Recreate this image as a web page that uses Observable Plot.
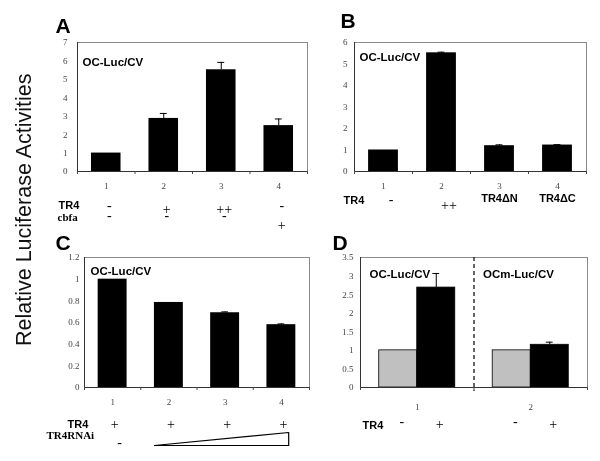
<!DOCTYPE html>
<html>
<head>
<meta charset="utf-8">
<script src="https://cdn.jsdelivr.net/npm/d3@7"></script>
<script src="https://cdn.jsdelivr.net/npm/@observablehq/plot@0.6"></script>
<style>
  html, body { margin: 0; padding: 0; background: #fff; }
  #fig { position: relative; width: 600px; height: 461px; overflow: hidden; background: #fff; filter: grayscale(100%); }
  .panel { position: absolute; }
  #ylab {
    position: absolute; left: -124.6px; top: 199.25px; width: 300px; height: 21.5px;
    line-height: 21.5px; font-size: 21.5px; text-align: center; white-space: nowrap;
    font-family: "Liberation Sans", Arial, Helvetica, sans-serif; color: #111;
    transform: rotate(-90deg); transform-origin: 50% 50%;
  }
</style>
</head>
<body>
<div id="fig"><div id="ylab"></div></div>
<script>
// ---------------- data ----------------
const yAxisTitle = "Relative Luciferase Activities";

// Panel A
const aCategories = ["1", "2", "3", "4"];
const aValues = [1.0, 2.88, 5.52, 2.49];
const aErrors = [0, 0.27, 0.40, 0.36];
const aTR4 = ["-", "+", "++", "-"];
const aCbfa = ["-", "-", "-", "+"];
const aYTicks = [0, 1, 2, 3, 4, 5, 6, 7];

// Panel B
const bCategories = ["1", "2", "3", "4"];
const bValues = [1.0, 5.52, 1.20, 1.23];
const bErrors = [0, 0.03, 0.04, 0.02];
const bTR4 = ["-", "++", "TR4\u0394N", "TR4\u0394C"];
const bYTicks = [0, 1, 2, 3, 4, 5, 6];

// Panel C
const cCategories = ["1", "2", "3", "4"];
const cValues = [1.0, 0.785, 0.69, 0.58];
const cErrors = [0, 0, 0.008, 0.007];
const cTR4 = ["+", "+", "+", "+"];
const cRNAi = ["-"];
const cYTicks = [0, 0.2, 0.4, 0.6, 0.8, 1, 1.2];

// Panel D
const dGroups = ["1", "2"];
const dReporters = ["OC-Luc/CV", "OCm-Luc/CV"];
const dTR4 = ["-", "+"];
const dValues = [[1.0, 2.69], [1.0, 1.15]];
const dErrors = [[0, 0.38], [0, 0.07]];
const dYTicks = [0, 0.5, 1, 1.5, 2, 2.5, 3, 3.5];

const panelLetters = ["A", "B", "C", "D"];
const reporterLabel = "OC-Luc/CV";

// ---------------- helpers ----------------
const SANS = '"Liberation Sans", Arial, Helvetica, sans-serif';
const SERIF = '"Liberation Serif", "Times New Roman", serif';
const BAR_HALF = 0.257, CAP_HALF = 0.06;
const SIGN_SIZE = 14;

document.getElementById("ylab").textContent = yAxisTitle;

function mount(box, node) {
  const div = document.createElement("div");
  div.className = "panel";
  Object.assign(div.style, {left: box.left + "px", top: box.top + "px", width: box.width + "px", height: box.height + "px"});
  div.appendChild(node);
  document.getElementById("fig").appendChild(div);
}

function rowMarks(row, xOf) {
  const items = row.symbols.map((s, i) => ({s, i}));
  const isPlus = s => /^\++$/.test(s);
  const minus = items.filter(d => d.s === "-");
  const plus = items.filter(d => isPlus(d.s));
  const words = items.filter(d => d.s !== "-" && !isPlus(d.s));
  const base = {x: d => xOf(d.i), text: "s", frameAnchor: "bottom", lineAnchor: "middle", fill: "black"};
  return [
    Plot.text([row.label], {frameAnchor: "bottom-left", lineAnchor: "middle", textAnchor: "start", dx: row.labelDx, dy: row.labelDy,
      fontFamily: row.labelSerif ? SERIF : SANS, fontWeight: "bold", fontSize: 11, fill: "black"}),
    Plot.text(minus, {...base, dx: row.dx, dy: row.dyMinus, fontFamily: SERIF, fontSize: SIGN_SIZE}),
    Plot.text(plus, {...base, dx: row.dx, dy: row.dyPlus, fontFamily: SERIF, fontSize: SIGN_SIZE}),
    Plot.text(words, {...base, dy: row.dyWord, fontFamily: SANS, fontWeight: "bold", fontSize: 11})
  ];
}

function commonFrame(n, cfg) {
  return [
    Plot.frame({stroke: "#8a8a8a"}),
    Plot.ruleX([0], {stroke: "#333"}),
    Plot.ruleY([0], {stroke: "#333"}),
    Plot.axisY({ticks: cfg.yTicks, tickSize: 0, tickPadding: cfg.tickPadding, tickFormat: d => String(d), label: null,
      fontFamily: SERIF, fontSize: 9, fill: "#444"}),
    Plot.axisX({ticks: d3.range(n + 1), tickSize: 3, tickFormat: () => "", label: null, stroke: "#444"}),
    Plot.text([cfg.letter], {frameAnchor: "top-left", lineAnchor: "middle", textAnchor: "start", dx: cfg.letterPos[0], dy: cfg.letterPos[1],
      fontFamily: SANS, fontWeight: "bold", fontSize: 21, fill: "black"})
  ];
}

function plotOptions(cfg, n, marks) {
  const m = cfg.margin;
  return {
    width: cfg.box.width, height: cfg.box.height,
    marginLeft: m[0], marginRight: m[1], marginTop: m[2], marginBottom: m[3],
    style: {background: "transparent", overflow: "visible", fontFamily: SERIF, fontSize: "9px", color: "#444"},
    x: {domain: [0, n]},
    y: {domain: [0, cfg.yMax]},
    color: {type: "identity"},
    marks
  };
}

function barPanel(cfg) {
  const n = cfg.categories.length;
  const data = cfg.categories.map((c, i) => ({c, i, v: cfg.values[i], e: cfg.errors[i]}));
  const mid = d => d.i + 0.5;
  const withErr = data.filter(d => d.e > 0);
  const marks = [
    Plot.rectY(data, {x1: d => mid(d) - BAR_HALF, x2: d => mid(d) + BAR_HALF, y1: 0, y2: "v", fill: "black"}),
    Plot.ruleX(withErr, {x: mid, y1: "v", y2: d => d.v + d.e, stroke: "black"}),
    Plot.ruleY(withErr, {x1: d => mid(d) - CAP_HALF, x2: d => mid(d) + CAP_HALF, y: d => d.v + d.e, stroke: "black"}),
    ...commonFrame(n, cfg),
    Plot.text(data, {x: mid, text: "c", frameAnchor: "bottom", lineAnchor: "middle", dy: cfg.numberDy, fill: "#444", fontFamily: SERIF, fontSize: 9}),
    Plot.text([reporterLabel], {frameAnchor: "top-left", lineAnchor: "middle", textAnchor: "start", dx: cfg.reporterPos[0], dy: cfg.reporterPos[1],
      fontFamily: SANS, fontWeight: "bold", fontSize: 11.5, fill: "black"}),
    ...cfg.rows.flatMap(row => rowMarks(row, i => i + 0.5)),
    ...(cfg.extra || [])
  ];
  return Plot.plot(plotOptions(cfg, n, marks));
}

// ---------------- Panel A ----------------
mount({left: 40, top: 0, width: 280, height: 232}, barPanel({
  box: {width: 280, height: 232}, margin: [37, 13, 42, 61],
  categories: aCategories, values: aValues, errors: aErrors, yTicks: aYTicks, yMax: 7,
  tickPadding: 10, letter: panelLetters[0], letterPos: [-22, -16], reporterPos: [5, 20], numberDy: 15,
  rows: [
    {label: "TR4", labelDx: -19, labelDy: 33.5, symbols: aTR4, dx: 3, dyMinus: 34, dyPlus: 38.5, dyWord: 34},
    {label: "cbfa", labelSerif: true, labelDx: -20, labelDy: 46, symbols: aCbfa, dx: 3, dyMinus: 44, dyPlus: 54, dyWord: 44}
  ]
}));

// ---------------- Panel B ----------------
mount({left: 320, top: 0, width: 280, height: 232}, barPanel({
  box: {width: 280, height: 232}, margin: [34, 14, 42, 61],
  categories: bCategories, values: bValues, errors: bErrors, yTicks: bYTicks, yMax: 6,
  tickPadding: 7, letter: panelLetters[1], letterPos: [-14, -21.5], reporterPos: [5, 15], numberDy: 15,
  rows: [
    {label: "TR4", labelDx: -11, labelDy: 28.5, symbols: bTR4, dx: 7.5, dyMinus: 28, dyPlus: 34, dyWord: 26.7}
  ]
}));

// ---------------- Panel C ----------------
const cRamp = [
  {x: 1.5 - BAR_HALF, y: 0},
  {x: 3.63, y: 0},
  {x: 3.63, y: 0.12},
  {x: 1.5 - BAR_HALF, y: 0}
];
mount({left: 40, top: 232, width: 280, height: 229}, barPanel({
  box: {width: 280, height: 229}, margin: [44, 11, 25, 74],
  categories: cCategories, values: cValues, errors: cErrors, yTicks: cYTicks, yMax: 1.2,
  tickPadding: 5, letter: panelLetters[2], letterPos: [-29, -14.5], reporterPos: [6, 14], numberDy: 15,
  rows: [
    {label: "TR4", labelDx: -17, labelDy: 37, symbols: cTR4, dx: 2, dyMinus: 37, dyPlus: 37, dyWord: 37},
    {label: "TR4RNAi", labelSerif: true, labelDx: -38, labelDy: 47.5, symbols: cRNAi, dx: 7, dyMinus: 55, dyPlus: 55, dyWord: 55}
  ],
  extra: [Plot.line(cRamp, {x: "x", y: "y", dy: 58, stroke: "black", strokeWidth: 1.2})]
}));

// ---------------- Panel D ----------------
(function () {
  const W = 0.335;
  const data = dGroups.flatMap((g, gi) => dTR4.map((t, ti) => ({g, gi, t, ti, v: dValues[gi][ti], e: dErrors[gi][ti]})));
  const left = d => d.gi + 0.5 + (d.ti - 1) * W;
  const right = d => d.gi + 0.5 + d.ti * W;
  const mid = d => (left(d) + right(d)) / 2;
  const withErr = data.filter(d => d.e > 0);
  const cfg = {
    box: {width: 280, height: 229}, margin: [40, 13, 25, 74],
    yTicks: dYTicks, yMax: 3.5, tickPadding: 7, letter: panelLetters[3], letterPos: [-28, -14.5]
  };
  const n = dGroups.length;
  const txt = {frameAnchor: "bottom", lineAnchor: "middle", fill: "black"};
  const marks = [
    Plot.rectY(data, {x1: left, x2: right, y1: 0, y2: "v", fill: d => d.ti === 0 ? "#c0c0c0" : "#000", stroke: "black", strokeWidth: 0.8}),
    Plot.ruleX(withErr, {x: mid, y1: "v", y2: d => d.v + d.e, stroke: "black"}),
    Plot.ruleY(withErr, {x1: d => mid(d) - CAP_HALF / 2, x2: d => mid(d) + CAP_HALF / 2, y: d => d.v + d.e, stroke: "black"}),
    ...commonFrame(n, cfg),
    Plot.ruleX([1], {stroke: "black", strokeWidth: 1.2, strokeDasharray: "4,3", insetBottom: -4}),
    Plot.text(dGroups, {...txt, x: (d, i) => i + 0.5, dy: 19.7, fill: "#444", fontFamily: SERIF, fontSize: 9}),
    Plot.text(dReporters, {x: (d, i) => i, frameAnchor: "top", lineAnchor: "middle", textAnchor: "start", dx: 9, dy: 17,
      fontFamily: SANS, fontWeight: "bold", fontSize: 11.5, fill: "black"}),
    Plot.text(["TR4"], {frameAnchor: "bottom-left", lineAnchor: "middle", textAnchor: "start", dx: 2, dy: 37.5,
      fontFamily: SANS, fontWeight: "bold", fontSize: 11, fill: "black"}),
    Plot.text(data.filter(d => d.t === "-"), {...txt, x: mid, text: "t", dx: 3.5, dy: 34.5, fontFamily: SERIF, fontSize: SIGN_SIZE}),
    Plot.text(data.filter(d => d.t === "+"), {...txt, x: mid, text: "t", dx: 3.5, dy: 37, fontFamily: SERIF, fontSize: SIGN_SIZE})
  ];
  mount({left: 320, top: 232, width: 280, height: 229}, Plot.plot(plotOptions(cfg, n, marks)));
})();
</script>
</body>
</html>
